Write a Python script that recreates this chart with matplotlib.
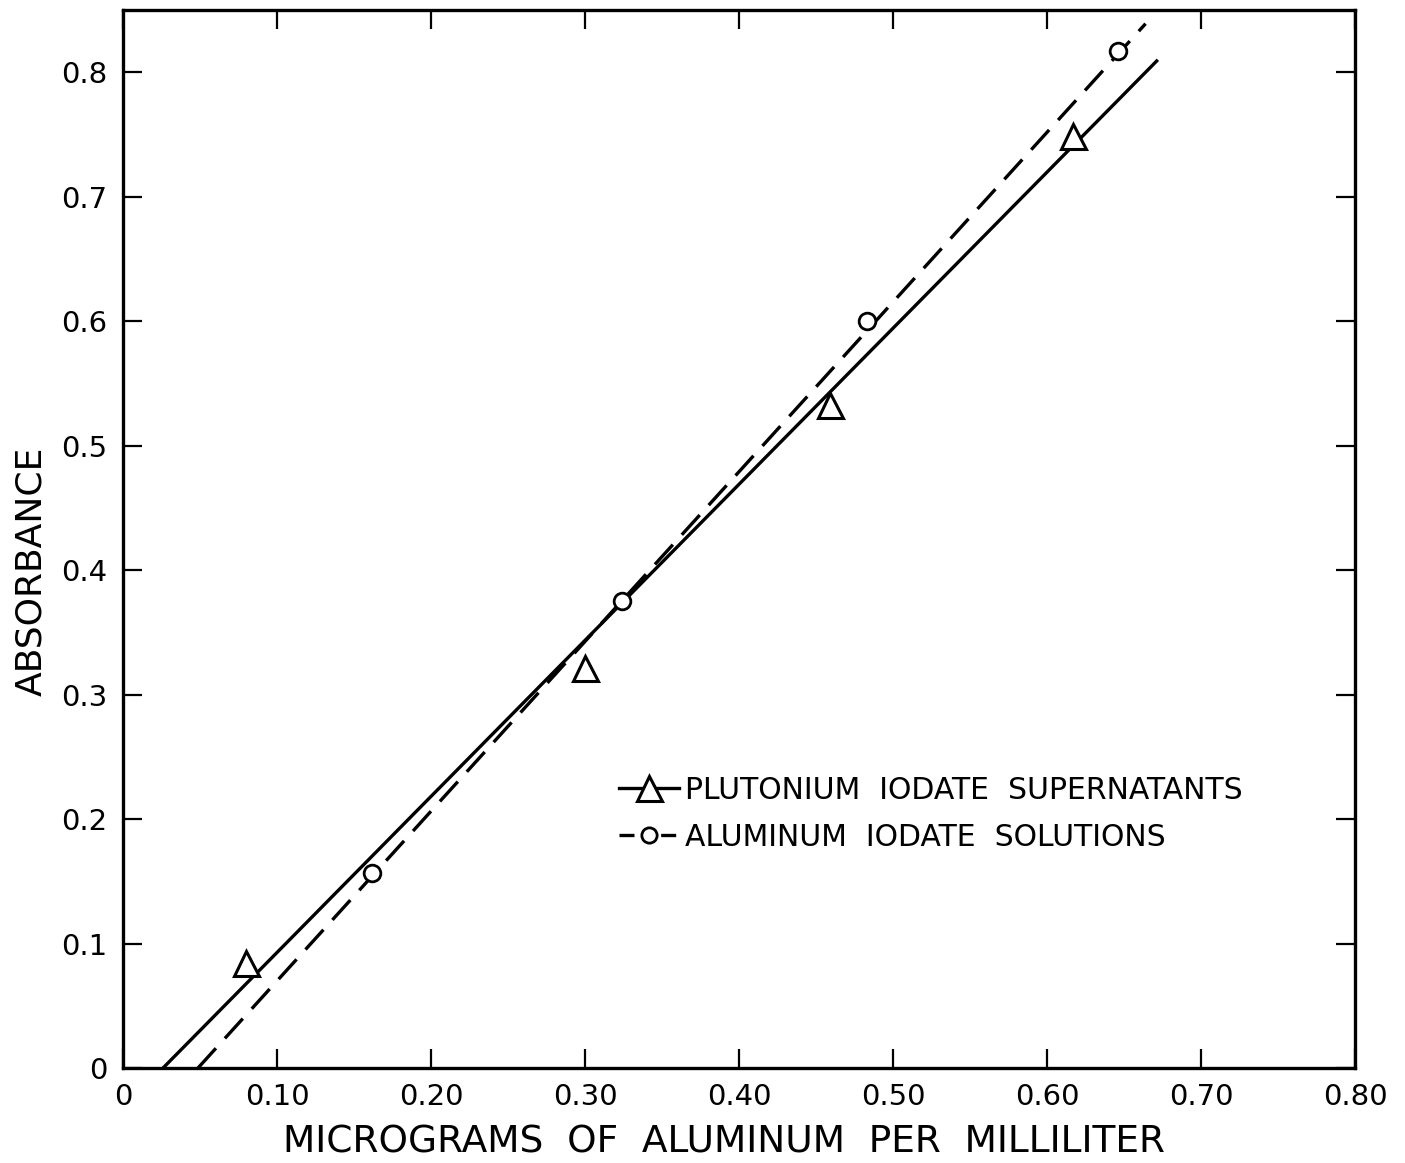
import matplotlib
matplotlib.use("Agg")
import matplotlib.pyplot as plt

# data
pu_x = [0.080, 0.300, 0.459, 0.617]
pu_y = [0.084, 0.321, 0.533, 0.749]
al_x = [0.162, 0.324, 0.483, 0.646]
al_y = [0.157, 0.375, 0.600, 0.817]

# fitted lines (end points)
pu_fit_x = [0.026, 0.672]
pu_fit_y = [0.0, 0.810]
al_fit_x = [0.0487, 0.664]
al_fit_y = [0.0, 0.839]

xticks = [0, 0.1, 0.2, 0.3, 0.4, 0.5, 0.6, 0.7, 0.8]
xtick_labels = ["0", "0.10", "0.20", "0.30", "0.40", "0.50", "0.60", "0.70", "0.80"]
yticks = [0, 0.1, 0.2, 0.3, 0.4, 0.5, 0.6, 0.7, 0.8]
ytick_labels = ["0", "0.1", "0.2", "0.3", "0.4", "0.5", "0.6", "0.7", "0.8"]

plt.rcParams["font.family"] = ["DejaVu Sans"]

fig = plt.figure(figsize=(14.05, 11.63), dpi=100)
ax = fig.add_axes([123 / 1405, 1 - 1068 / 1163, (1355 - 123) / 1405, (1068 - 10) / 1163])

ax.plot(pu_fit_x, pu_fit_y, color="black", lw=2.4, solid_capstyle="butt")
ax.plot(al_fit_x, al_fit_y, color="black", lw=2.4, dashes=(8, 4))

ax.plot(pu_x, pu_y, linestyle="none", marker="^", markersize=18,
        markerfacecolor="white", markeredgecolor="black", markeredgewidth=2.2)
ax.plot(al_x, al_y, linestyle="none", marker="o", markersize=12,
        markerfacecolor="white", markeredgecolor="black", markeredgewidth=2.0)

# legend handles
h1, = ax.plot([], [], color="black", lw=2.4, marker="^", markersize=18,
              markerfacecolor="white", markeredgecolor="black", markeredgewidth=2.2)
h2, = ax.plot([], [], color="black", lw=2.4, dashes=(4.5, 8), marker="o", markersize=11,
              markerfacecolor="white", markeredgecolor="black", markeredgewidth=2.0)
ax.legend([h1, h2], ["PLUTONIUM  IODATE  SUPERNATANTS", "ALUMINUM  IODATE  SOLUTIONS"],
          loc="center left", bbox_to_anchor=(0.381, 0.2405), frameon=False,
          fontsize=21.5, handlelength=2.0, handletextpad=0.2, labelspacing=0.6)

ax.set_xlim(0, 0.8)
ax.set_ylim(0, 0.85)
ax.set_xticks(xticks)
ax.set_xticklabels(xtick_labels)
ax.set_yticks(yticks)
ax.set_yticklabels(ytick_labels)
ax.tick_params(direction="in", length=14, width=1.6, labelsize=21, pad=11,
               top=True, right=True)
for s in ax.spines.values():
    s.set_linewidth(2.4)

ax.set_xlabel("MICROGRAMS  OF  ALUMINUM  PER  MILLILITER", fontsize=27)
ax.xaxis.set_label_coords(0.488, -0.053)
ax.set_ylabel("ABSORBANCE", fontsize=26)
ax.yaxis.set_label_coords(-0.061, 0.469)

fig.savefig("out.png", dpi=100)
